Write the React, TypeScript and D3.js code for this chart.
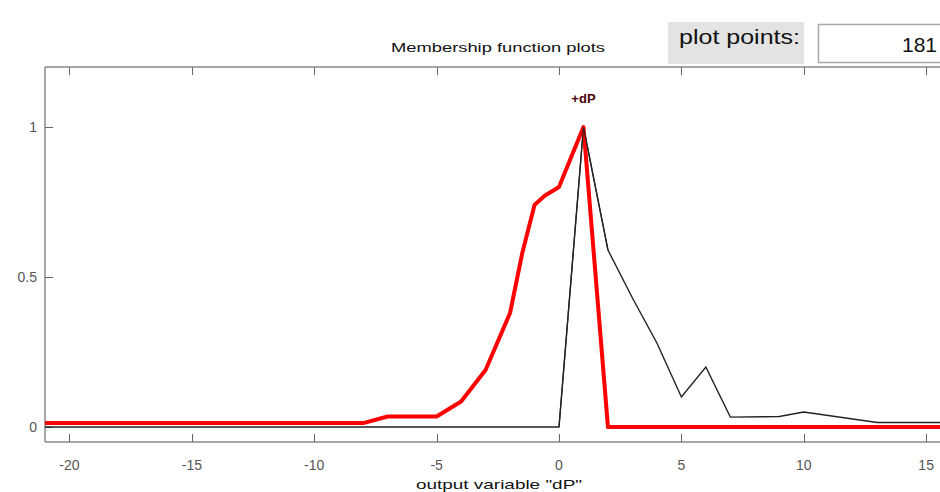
import * as React from 'react';
import * as d3 from 'd3';

const WIDTH = 940;
const HEIGHT = 492;

// selected membership function (red) and aggregated output (black)
const redX = [-21, -8, -7, -5, -4, -3, -2, -1.5, -1, -0.6, 0, 1, 2, 21];
const redY = [0.013, 0.013, 0.035, 0.035, 0.085, 0.19, 0.38, 0.58, 0.74, 0.77, 0.8, 1, 0, 0];
const blackX = [-21, 0, 1, 2, 3, 4, 5, 6, 7, 9, 10, 13, 21];
const blackY = [0, 0, 1, 0.59, 0.43, 0.28, 0.1, 0.2, 0.033, 0.035, 0.05, 0.015, 0.015];

const xTicks = [-20, -15, -10, -5, 0, 5, 10, 15, 20];
const yTicks = [0, 0.5, 1];

const FONT = 'Liberation Sans, Arial, sans-serif';

const App = () => {
  const ref = React.useRef<SVGSVGElement>(null);

  React.useEffect(() => {
    const svg = d3.select(ref.current);
    svg.selectAll('*').remove();

    const x = d3.scaleLinear().domain([-21, 21]).range([45, 1073]);
    const y = d3.scaleLinear().domain([-0.05, 1.2]).range([442, 67]);

    svg.append('rect').attr('width', WIDTH).attr('height', HEIGHT).attr('fill', 'white');

    // header
    svg.append('text')
      .attr('x', 498).attr('y', 52)
      .attr('text-anchor', 'middle')
      .attr('font-family', FONT).attr('font-size', 13)
      .attr('textLength', 214).attr('lengthAdjust', 'spacingAndGlyphs')
      .attr('fill', '#111')
      .text('Membership function plots');

    svg.append('rect')
      .attr('x', 668).attr('y', 22).attr('width', 136).attr('height', 42)
      .attr('fill', '#e3e3e3');
    svg.append('text')
      .attr('x', 679).attr('y', 44)
      .attr('font-family', FONT).attr('font-size', 21)
      .attr('textLength', 121).attr('lengthAdjust', 'spacingAndGlyphs')
      .attr('fill', '#111')
      .text('plot points:');
    svg.append('rect')
      .attr('x', 818.5).attr('y', 24.5).attr('width', 140).attr('height', 38)
      .attr('fill', 'white').attr('stroke', '#a8a8a8').attr('stroke-width', 1.5);
    svg.append('text')
      .attr('x', 937).attr('y', 52)
      .attr('text-anchor', 'end')
      .attr('font-family', FONT).attr('font-size', 21)
      .attr('fill', '#111')
      .text('181');

    const defs = svg.append('defs');
    defs.append('clipPath').attr('id', 'plotClip')
      .append('rect').attr('x', 45).attr('y', 67).attr('width', WIDTH - 45).attr('height', 375);

    // axes box
    const axisColor = '#8a8a8a';
    svg.append('line').attr('x1', 45).attr('x2', WIDTH).attr('y1', 67).attr('y2', 67)
      .attr('stroke', axisColor).attr('stroke-width', 1.5);
    svg.append('line').attr('x1', 45).attr('x2', WIDTH).attr('y1', 442).attr('y2', 442)
      .attr('stroke', axisColor).attr('stroke-width', 1.5);
    svg.append('line').attr('x1', 45).attr('x2', 45).attr('y1', 67).attr('y2', 442)
      .attr('stroke', axisColor).attr('stroke-width', 1.5);

    const tickG = svg.append('g').attr('stroke', '#666').attr('stroke-width', 1);
    xTicks.forEach(t => {
      const px = Math.round(x(t)) + 0.5;
      tickG.append('line').attr('x1', px).attr('x2', px).attr('y1', 67).attr('y2', 75);
      tickG.append('line').attr('x1', px).attr('x2', px).attr('y1', 442).attr('y2', 434);
    });
    yTicks.forEach(t => {
      const py = Math.round(y(t)) + 0.5;
      tickG.append('line').attr('x1', 45).attr('x2', 53).attr('y1', py).attr('y2', py);
    });

    svg.append('g').selectAll('text')
      .data(xTicks.filter(t => x(t) < WIDTH - 5))
      .enter().append('text')
      .attr('x', d => x(d)).attr('y', 470)
      .attr('text-anchor', 'middle')
      .attr('font-family', FONT).attr('font-size', 14)
      .attr('fill', '#555')
      .text(d => String(d));

    svg.append('g').selectAll('text')
      .data(yTicks)
      .enter().append('text')
      .attr('x', 37).attr('y', d => y(d) + 5)
      .attr('text-anchor', 'end')
      .attr('font-family', FONT).attr('font-size', 14)
      .attr('fill', '#555')
      .text(d => String(d));

    svg.append('text')
      .attr('x', 499).attr('y', 489)
      .attr('text-anchor', 'middle')
      .attr('font-family', FONT).attr('font-size', 13)
      .attr('textLength', 166).attr('lengthAdjust', 'spacingAndGlyphs')
      .attr('fill', '#111')
      .text('output variable "dP"');

    // curves
    const line = d3.line<[number, number]>()
      .x(d => x(d[0]))
      .y(d => y(d[1]));

    const plot = svg.append('g').attr('clip-path', 'url(#plotClip)');

    plot.append('path')
      .datum(blackX.map((v, i) => [v, blackY[i]] as [number, number]))
      .attr('d', line)
      .attr('fill', 'none')
      .attr('stroke', '#222')
      .attr('stroke-width', 1.4);

    plot.append('path')
      .datum(redX.map((v, i) => [v, redY[i]] as [number, number]))
      .attr('d', line)
      .attr('fill', 'none')
      .attr('stroke', '#ff0000')
      .attr('stroke-width', 4)
      .attr('stroke-linejoin', 'round');

    // black overlay near the peak drawn over red
    plot.append('path')
      .datum(blackX.slice(1, 4).map((v, i) => [v, blackY[i + 1]] as [number, number]))
      .attr('d', line)
      .attr('fill', 'none')
      .attr('stroke', '#222')
      .attr('stroke-width', 1.2);

    svg.append('text')
      .attr('x', x(1)).attr('y', 103)
      .attr('text-anchor', 'middle')
      .attr('font-family', FONT).attr('font-size', 13).attr('font-weight', 'bold')
      .attr('fill', '#4a0000')
      .text('+dP');
  }, []);

  return (
    <svg
      ref={ref}
      width={WIDTH}
      height={HEIGHT}
      style={{ position: 'absolute', left: 0, top: 0 }}
    />
  );
};

export default App;
